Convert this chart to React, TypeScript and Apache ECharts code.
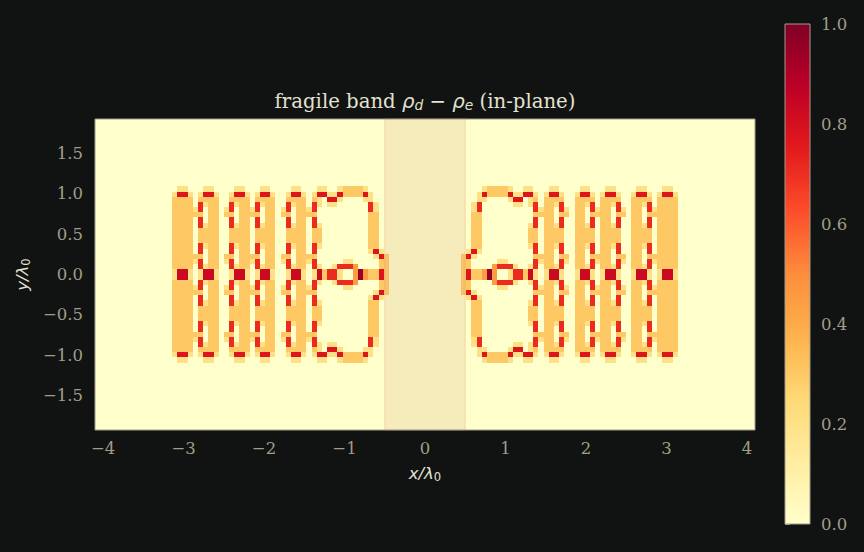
import React, { useEffect, useRef } from "react";
import * as echarts from "echarts";

const xTicks = [-4, -3, -2, -1, 0, 1, 2, 3, 4];
const yTicks = [-1.5, -1, -0.5, 0, 0.5, 1, 1.5];
const colorbarTicks = [0, 0.2, 0.4, 0.6, 0.8, 1];
const colormap = ["#ffffcc", "#ffeda0", "#fed976", "#feb24c", "#fd8d3c", "#fc4e2a", "#e31a1c", "#bd0026", "#800026"];
const levels: Record<string, number> = { ".": 0, a: 0.2, b: 0.3, c: 0.45, d: 0.71, e: 0.77, f: 0.83, g: 0.95 };
const nx = 128;
const ny = 60;
const firstRow = 13;
const firstCol = 15;
// Upper-left quadrant of the density map, rows 13..29 from top, columns 15..57 from left.
const upperLeftRows = [
  ".aa.." + ".aa.." + "..aa.." + ".aa.." + "..aa.." + ".aa..abbbba.....",
  "aeea." + "aeea." + ".aeea." + "aeea." + ".aeea." + "aeeaaebbbbea....",
  "bbbb." + "bbbb." + ".bbbb." + "bbbb." + ".bbbb." + "ba.eea....aa....",
  "bbbb." + "dabb." + ".dabb." + "dabb." + ".dabb." + "da.aa......da...",
  "bbbba" + "d.bb." + "ad.bba" + "d.bb." + "ad.bba" + "d..........da...",
  "bbbbb" + "b.bb." + "bb.bbb" + "b.bb." + "bb.bbb" + "b..........bb...",
  "bbbb." + "d.bb." + ".d.bb." + "d.bb." + ".d.bb." + "d..........bb...",
  "bbbb." + "dabb." + ".dabb." + "dabb." + ".dabb." + "da.........bb...",
  "bbbb." + "bbbb." + ".bbbb." + "bbbb." + ".bbbb." + "bb.........bb...",
  "bbbb." + "bbbb." + ".bbbb." + "bbbb." + ".bbbb." + "bb.........bb...",
  "bbbb." + "bbbb." + ".bbbb." + "bbbb." + ".bbbb." + "bb.........bb...",
  "bbbb." + "dabb." + ".dabb." + "dabb." + ".dabb." + "da.........bb...",
  "bbbb." + "d.bb." + ".d.bb." + "d.bb." + ".d.bb." + "d..........aea..",
  "bbbbb" + "b.bb." + "bb.bbb" + "b.bb." + "bb.bbb" + "b...........aeb.",
  "bbbba" + "d.bb." + "ad.bba" + "d.bb." + "ad.bba" + "d.....aa.....bb.",
  "bbbb." + "dabb." + ".dabb." + "dabb." + ".dabb." + "da..adddc....bb.",
  "affa." + "affa." + ".affa." + "affa." + ".affa." + "afbdda..cgcbbeb.",
];

const xMin = -4.1;
const xMax = 4.1;
const yMin = -1.93;
const yMax = 1.93;
const cellW = (xMax - xMin) / nx;
const cellH = (yMax - yMin) / ny;

function cellValue(j: number, k: number): number {
  const row = j < ny / 2 ? j : ny - 1 - j;
  const col = k < nx / 2 ? k : nx - 1 - k;
  const text = upperLeftRows[row - firstRow];
  if (!text) return 0;
  return levels[text[col - firstCol]] ?? 0;
}

const cells: number[][] = [];
for (let j = 0; j < ny; j++) {
  for (let k = 0; k < nx; k++) {
    cells.push([xMin + (k + 0.5) * cellW, yMax - (j + 0.5) * cellH, cellValue(j, k)]);
  }
}

const BG = "#101311";
const SPINE = "#a09d8e";
const TICK_TEXT = "#a09d8c";
const LABEL_TEXT = "#e4e0d2";
const SERIF = "'DejaVu Serif', serif";
const SANS = "'DejaVu Sans', sans-serif";

function axisRich(size: number) {
  return {
    m: { fontFamily: SANS, fontStyle: "italic", fontWeight: "normal", fontSize: size, color: LABEL_TEXT },
    s: { fontFamily: SANS, fontWeight: "normal", fontSize: size * 0.7, color: LABEL_TEXT, padding: [size * 0.45, 0, 0, 0] },
  };
}

const minusLabel = (v: number, digits: number) =>
  (v < 0 ? "\u2212" : "") + Math.abs(v).toFixed(digits);

export default function App() {
  const ref = useRef<HTMLDivElement>(null);
  useEffect(() => {
    document.body.style.margin = "0";
    document.body.style.background = BG;
    const chart = echarts.init(ref.current!, undefined, { renderer: "svg" });
    const tickStyle = { color: SPINE, width: 1 };
    chart.setOption({
      animation: false,
      backgroundColor: BG,
      title: {
        left: 420,
        top: 86,
        textAlign: "center",
        text: "{n|fragile band }{m|\u03c1}{s|d}{o| \u2212 }{m|\u03c1}{s|e}{n| (in-plane)}",
        textStyle: {
          fontWeight: "normal",
          rich: {
            n: { fontFamily: SERIF, fontWeight: "normal", fontSize: 19.7, color: LABEL_TEXT },
            m: { fontFamily: SANS, fontStyle: "italic", fontWeight: "normal", fontSize: 19.7, color: LABEL_TEXT },
            o: { fontFamily: SANS, fontWeight: "normal", fontSize: 19.7, color: LABEL_TEXT },
            s: { fontFamily: SANS, fontStyle: "italic", fontWeight: "normal", fontSize: 13.8, color: LABEL_TEXT, padding: [7, 0, 0, 0] },
          },
        },
      },
      grid: [
        { left: 95, top: 119, width: 660, height: 311, show: true, backgroundColor: colormap[0], borderWidth: 0 },
        { left: 785, top: 24, width: 25, height: 500, show: false },
      ],
      xAxis: [
        {
          type: "value", gridIndex: 0, min: xMin, max: xMax, splitLine: { show: false },
          axisLine: { show: false },
          axisTick: { show: true, length: 5, lineStyle: tickStyle, customValues: xTicks },
          axisLabel: {
            color: TICK_TEXT, fontFamily: SERIF, fontSize: 16.5, margin: 10,
            customValues: xTicks, formatter: (v: number) => minusLabel(v, 0),
          },
          name: "{m|x/\u03bb}{s|0}", nameLocation: "middle", nameGap: 34,
          nameTextStyle: { rich: axisRich(16.5) },
        },
        { type: "value", gridIndex: 1, min: 0, max: 1, show: false },
      ],
      yAxis: [
        {
          type: "value", gridIndex: 0, min: yMin, max: yMax, splitLine: { show: false },
          axisLine: { show: false },
          axisTick: { show: true, length: 5, lineStyle: tickStyle, customValues: yTicks },
          axisLabel: {
            color: TICK_TEXT, fontFamily: SERIF, fontSize: 16.5, margin: 12,
            customValues: yTicks, formatter: (v: number) => minusLabel(v, 1),
          },
          name: "{m|y/\u03bb}{s|0}", nameLocation: "middle", nameGap: 59,
          nameTextStyle: { rich: axisRich(16.5) },
        },
        {
          type: "value", gridIndex: 1, min: 0, max: 1, interval: 0.2, position: "right",
          splitLine: { show: false }, axisLine: { show: false },
          axisTick: { show: true, length: 5, lineStyle: tickStyle },
          axisLabel: {
            color: TICK_TEXT, fontFamily: SERIF, fontSize: 16.5, margin: 11,
            formatter: (v: number) => v.toFixed(1),
          },
          data: colorbarTicks,
        },
      ],
      visualMap: {
        show: false, type: "continuous", seriesIndex: 0, dimension: 2, min: 0, max: 1,
        inRange: { color: colormap },
      },
      series: [
        {
          type: "custom", name: "density", xAxisIndex: 0, yAxisIndex: 0, silent: true, clip: true,
          data: cells, encode: { x: 0, y: 1 },
          renderItem: (_p: any, api: any) => {
            const a = api.coord([api.value(0) - cellW / 2, api.value(1) + cellH / 2]);
            const b = api.coord([api.value(0) + cellW / 2, api.value(1) - cellH / 2]);
            const x0 = Math.round(a[0]);
            const y0 = Math.round(a[1]);
            return {
              type: "rect",
              shape: { x: x0, y: y0, width: Math.round(b[0]) - x0, height: Math.round(b[1]) - y0 },
              style: { fill: api.visual("color") },
            };
          },
        },
        {
          type: "custom", name: "gap", xAxisIndex: 0, yAxisIndex: 0, silent: true, z: 5,
          data: [[-0.5, 0.5]], encode: { x: [0, 1] },
          renderItem: (p: any, api: any) => {
            const x0 = api.coord([api.value(0), 0])[0];
            const x1 = api.coord([api.value(1), 0])[0];
            const c = p.coordSys;
            return {
              type: "rect",
              shape: { x: x0, y: c.y, width: x1 - x0, height: c.height },
              style: { fill: "rgba(218,170,130,0.23)", stroke: "rgba(235,150,90,0.3)", lineWidth: 1 },
            };
          },
        },
        {
          type: "custom", name: "frame", xAxisIndex: 0, yAxisIndex: 0, silent: true, z: 6, clip: false,
          data: [[0, 0]], encode: { x: 0, y: 1 },
          renderItem: (p: any) => ({
            type: "rect",
            shape: { x: p.coordSys.x, y: p.coordSys.y, width: p.coordSys.width, height: p.coordSys.height },
            style: { fill: "none", stroke: SPINE, lineWidth: 1 },
          }),
        },
        {
          type: "custom", name: "colorbar", xAxisIndex: 1, yAxisIndex: 1, silent: true, clip: false,
          data: [[0, 0]], encode: { x: 0, y: 1 },
          renderItem: (p: any) => ({
            type: "rect",
            shape: { x: p.coordSys.x, y: p.coordSys.y, width: p.coordSys.width, height: p.coordSys.height },
            style: {
              fill: new echarts.graphic.LinearGradient(
                0, 1, 0, 0,
                colormap.map((color, i) => ({ offset: i / (colormap.length - 1), color })),
              ),
              stroke: SPINE,
              lineWidth: 1,
            },
          }),
        },
      ],
    });
    return () => chart.dispose();
  }, []);
  return <div ref={ref} style={{ width: 864, height: 552, position: "fixed", left: 0, top: 0 }} />;
}
